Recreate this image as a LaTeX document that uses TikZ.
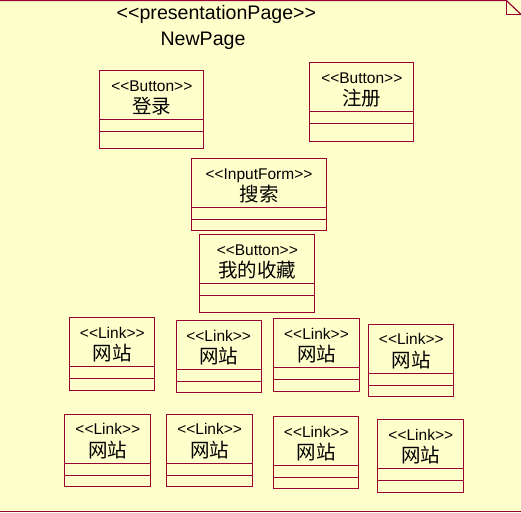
\documentclass[tikz,border=0pt]{standalone}
\usepackage{fontspec}
\setmainfont{Liberation Sans}
\newfontfamily\cjk{Noto Sans CJK SC}
\definecolor{umlred}{RGB}{153,0,51}
\definecolor{umlbg}{RGB}{255,255,204}
\newcommand{\stopen}{<\kern0pt<}
\newcommand{\stclose}{>\kern0pt>}
\tikzset{
  umlbox/.style={draw=umlred, line width=1pt, inner sep=0pt, outer sep=0pt},
  divline/.style={draw=umlred, line width=1pt},
  frameline/.style={draw=umlred, line width=1.2pt},
  stereo/.style={inner sep=0pt, anchor=base, font=\fontsize{15.5}{16}\selectfont},
  cjkname/.style={inner sep=0pt, anchor=center, font=\cjk\fontsize{19.5}{20}\selectfont},
  titletext/.style={inner sep=0pt, anchor=base, font=\fontsize{19.6}{20}\selectfont},
}
% #1 name, #2 left, #3 top, #4 right, #5 bottom, #6 stereotype, #7 label
\newcommand{\umlclass}[7]{%
  \node[umlbox, minimum width={(#4-#2)*1pt}, minimum height={(#5-#3)*1pt}]
    (#1) at ({(#2+#4)/2},{(#3+#5)/2}) {};
  \draw[divline] ([yshift=-49pt]#1.north west) -- ([yshift=-49pt]#1.north east);
  \draw[divline] ([yshift=-61pt]#1.north west) -- ([yshift=-61pt]#1.north east);
  \node[stereo] (#1-s) at ([yshift=-20.5pt]#1.north) {\stopen#6\stclose};
  \node[cjkname] (#1-n) at ([yshift=-35.5pt]#1.north) {#7};
}
\begin{document}
\begin{tikzpicture}[x=1pt, y=-1pt]
  \useasboundingbox (0,0) rectangle (521,512);
  \fill[umlbg] (0,0) rectangle (521,512);
  % package frame
  \coordinate (fa) at (0,0.6);
  \coordinate (fb) at (506.5,0.6);
  \coordinate (fc) at (521,14.5);
  \coordinate (fd) at (506.5,14.5);
  \coordinate (fe) at (0,511.4);
  \coordinate (ff) at (521,511.4);
  \draw[frameline] (fa) -- (fb) -- (fc);
  \draw[frameline] (fb) -- (fd) -- (fc);
  \draw[frameline] (fe) -- (ff);
  % title
  \node[titletext] (t1) at (216.4,19.5) {\stopen presentationPage\stclose};
  \node[titletext] (t2) at (203,45) {NewPage};
  % classes
  \umlclass{b1}{99.8}{70.8}{203.8}{148.5}{Button}{登录}
  \umlclass{b2}{309.8}{62.8}{413.8}{141.8}{Button}{注册}
  \umlclass{b3}{191.8}{158.8}{326.2}{230.8}{InputForm}{搜索}
  \umlclass{b4}{199.8}{234.8}{314.8}{312.8}{Button}{我的收藏}
  \umlclass{l1}{69.8}{317.8}{154.8}{390.8}{Link}{网站}
  \umlclass{l2}{176.2}{320.8}{261.2}{392.2}{Link}{网站}
  \umlclass{l3}{273.8}{318.8}{359.2}{391.5}{Link}{网站}
  \umlclass{l4}{368.8}{324.2}{453.8}{396.8}{Link}{网站}
  \umlclass{l5}{64.8}{414.2}{150.8}{486.8}{Link}{网站}
  \umlclass{l6}{166.8}{414.2}{252.5}{486.8}{Link}{网站}
  \umlclass{l7}{273.8}{416.8}{358.8}{488.8}{Link}{网站}
  \umlclass{l8}{377.8}{419.8}{463.8}{492.8}{Link}{网站}
\end{tikzpicture}
\end{document}
